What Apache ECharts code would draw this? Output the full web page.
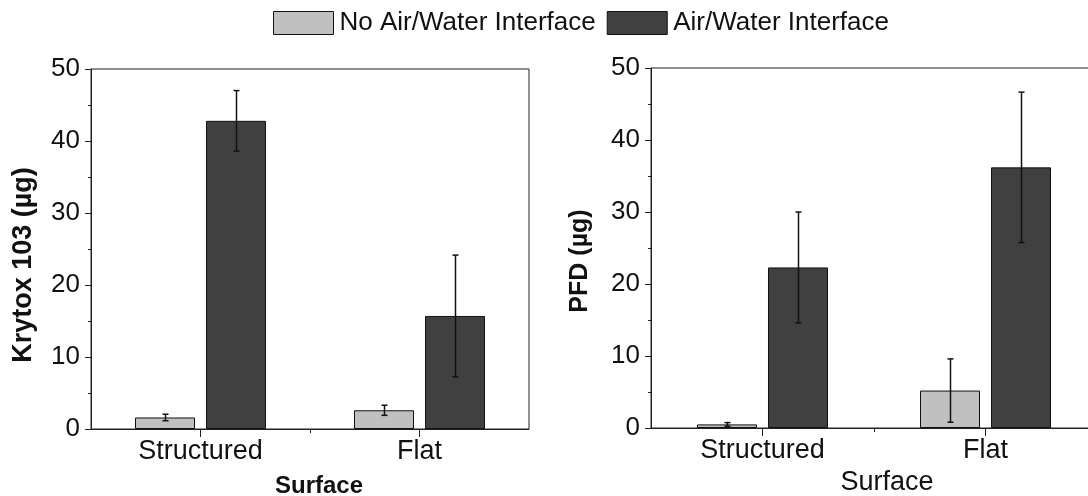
<!DOCTYPE html>
<html>
<head>
<meta charset="utf-8">
<script src="https://cdn.jsdelivr.net/npm/echarts@6/dist/echarts.min.js"></script>
<style>
html,body{margin:0;padding:0;background:#fff;}
#chart{width:1088px;height:496px;}
</style>
</head>
<body>
<div id="chart"></div>
<script>
// ---- data ----
const categories = ['Structured', 'Flat'];
const seriesNames = ['No Air/Water Interface', 'Air/Water Interface'];
// Left panel: Krytox 103 (µg)
const krytoxNoAir = [1.6, 2.6];
const krytoxNoAirErr = [0.45, 0.7];
const krytoxAir = [42.8, 15.7];
const krytoxAirErr = [4.2, 8.45];
// Right panel: PFD (µg)
const pfdNoAir = [0.5, 5.2];
const pfdNoAirErr = [0.25, 4.4];
const pfdAir = [22.3, 36.2];
const pfdAirErr = [7.7, 10.45];
const yTicks = [0, 10, 20, 30, 40, 50];

// ---- style ----
const FONT = "'Liberation Sans', Arial, sans-serif";
const LIGHT = '#c0c0c0';
const DARK = '#404040';
const AXIS = '#222';
const BAR_W = 60;
const BAR_GAP = 11;

function errData(vals, errs) {
  return vals.map((v, i) => [i, v, errs[i]]);
}

function errSeries(name, vals, errs, gi, side) {
  return {
    type: 'custom',
    name: name + ' err',
    xAxisIndex: gi * 2,
    yAxisIndex: gi,
    z: 10,
    silent: true,
    data: errData(vals, errs),
    renderItem: function (params, api) {
      const c = api.value(0), v = api.value(1), e = api.value(2);
      const off = side * (BAR_W + BAR_GAP) / 2;
      const top = api.coord([c, v + e]);
      const bot = api.coord([c, v - e]);
      const x = Math.round(top[0] + off) + 0.5;
      const cap = 3;
      const st = { stroke: '#111', lineWidth: 1.5 };
      return {
        type: 'group',
        children: [
          { type: 'line', shape: { x1: x, y1: top[1], x2: x, y2: bot[1] }, style: st },
          { type: 'line', shape: { x1: x - cap, y1: top[1], x2: x + cap, y2: top[1] }, style: st },
          { type: 'line', shape: { x1: x - cap, y1: bot[1], x2: x + cap, y2: bot[1] }, style: st }
        ]
      };
    }
  };
}

function barSeries(name, vals, gi, color) {
  return {
    type: 'bar',
    name: name,
    xAxisIndex: gi * 2,
    yAxisIndex: gi,
    data: vals,
    barWidth: BAR_W,
    barGap: (BAR_GAP / BAR_W * 100).toFixed(1) + '%',
    itemStyle: { color: color, borderColor: '#111', borderWidth: 1 },
    emphasis: { disabled: true }
  };
}

function catAxis(gi, nameText, nameStyle, nameGap) {
  return {
    type: 'category',
    gridIndex: gi,
    data: categories,
    position: 'bottom',
    name: nameText,
    nameLocation: 'middle',
    nameGap: nameGap,
    nameTextStyle: nameStyle,
    axisLine: { show: true, lineStyle: { color: AXIS, width: 1 } },
    axisTick: { show: true, alignWithLabel: true, length: 8, lineStyle: { color: AXIS } },
    axisLabel: { fontFamily: FONT, fontSize: 27, color: '#111', margin: 9 },
    splitLine: { show: false }
  };
}

function minorXAxis(gi) {
  return {
    type: 'value',
    gridIndex: gi,
    min: 0, max: 2,
    position: 'bottom',
    axisLine: { show: false },
    axisLabel: { show: false },
    splitLine: { show: false },
    axisTick: { show: true, length: 4, customValues: [1], lineStyle: { color: AXIS } }
  };
}

function valAxis(gi, nameText, gap, pad, size) {
  return {
    type: 'value',
    gridIndex: gi,
    min: yTicks[0], max: yTicks[yTicks.length - 1], interval: 10,
    name: nameText,
    nameLocation: 'middle',
    nameRotate: 90,
    nameGap: gap,
    nameTextStyle: { fontFamily: FONT, fontSize: size, fontWeight: 'bold', color: '#111', padding: pad },
    axisLine: { show: true, lineStyle: { color: AXIS, width: 1 } },
    axisTick: { show: true, length: 6, lineStyle: { color: AXIS } },
    minorTick: { show: true, splitNumber: 2, length: 3, lineStyle: { color: AXIS } },
    axisLabel: { fontFamily: FONT, fontSize: 26, color: '#111', margin: 11 },
    splitLine: { show: false }
  };
}

const option = {
  animation: false,
  backgroundColor: '#fff',
  textStyle: { fontFamily: FONT },
  legend: {
    data: seriesNames,
    left: 273,
    top: 10,
    padding: 0,
    icon: 'rect',
    itemWidth: 60,
    itemHeight: 23,
    itemGap: 11,
    selectedMode: false,
    textStyle: { fontFamily: FONT, fontSize: 26, color: '#111', padding: [0, 0, 0, 1] },
    itemStyle: { borderColor: '#111', borderWidth: 1 }
  },
  grid: [
    { left: 91, top: 69, width: 438, height: 360, outerBoundsMode: 'none', containLabel: false, show: true, borderColor: AXIS, borderWidth: 1, backgroundColor: 'transparent' },
    { left: 651, top: 68, width: 446, height: 360, outerBoundsMode: 'none', containLabel: false, show: true, borderColor: AXIS, borderWidth: 1, backgroundColor: 'transparent' }
  ],
  xAxis: [
    catAxis(0, 'Surface', { fontFamily: FONT, fontSize: 24, fontWeight: 'bold', color: '#111', padding: [0, 0, 0, 18] }, 45),
    minorXAxis(0),
    catAxis(1, 'Surface', { fontFamily: FONT, fontSize: 27, color: '#111', padding: [0, 0, 0, 26] }, 39),
    minorXAxis(1)
  ],
  yAxis: [
    valAxis(0, 'Krytox 103 (µg)', 54, [0, 32, 0, 0], 27),
    valAxis(1, 'PFD (µg)', 58, [0, 26, 0, 0], 25)
  ],
  series: [
    barSeries(seriesNames[0], krytoxNoAir, 0, LIGHT),
    barSeries(seriesNames[1], krytoxAir, 0, DARK),
    barSeries(seriesNames[0], pfdNoAir, 1, LIGHT),
    barSeries(seriesNames[1], pfdAir, 1, DARK),
    errSeries(seriesNames[0], krytoxNoAir, krytoxNoAirErr, 0, -1),
    errSeries(seriesNames[1], krytoxAir, krytoxAirErr, 0, 1),
    errSeries(seriesNames[0], pfdNoAir, pfdNoAirErr, 1, -1),
    errSeries(seriesNames[1], pfdAir, pfdAirErr, 1, 1)
  ]
};

const chart = echarts.init(document.getElementById('chart'), null, { renderer: 'canvas' });
chart.setOption(option);
</script>
</body>
</html>
